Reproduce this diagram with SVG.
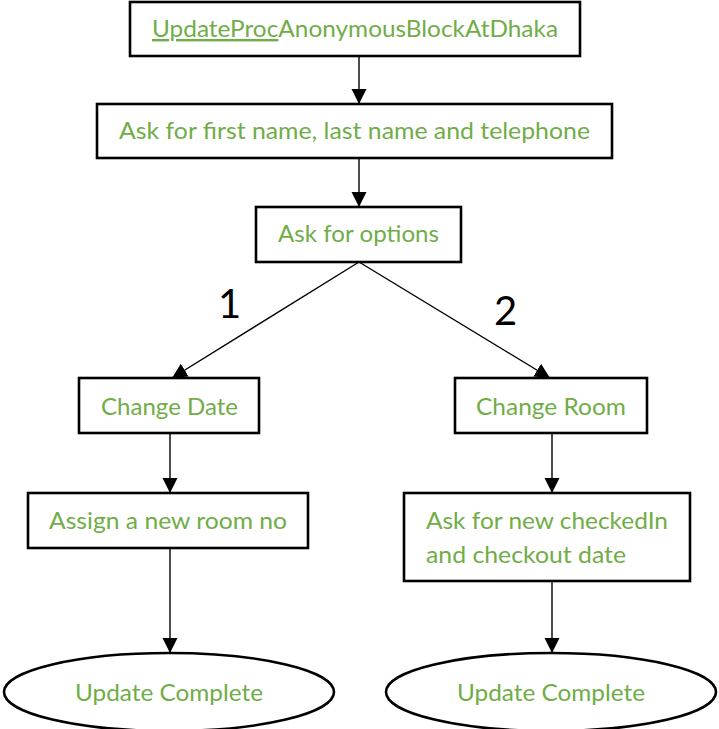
<svg xmlns="http://www.w3.org/2000/svg" width="719" height="729" viewBox="0 0 719 729">
  <defs>
    <marker id="arrow" markerUnits="userSpaceOnUse" markerWidth="16" markerHeight="16" refX="15" refY="7.5" orient="auto">
      <path d="M0,0 L15,7.5 L0,15 z" fill="#000"/>
    </marker>
    <style>
      .box { fill: #fff; stroke: #000; stroke-width: 2.6; }
      .conn { stroke: #000; stroke-width: 1.4; fill: none; marker-end: url(#arrow); }
      .lbl { font-family: Lato, "Open Sans", sans-serif; font-size: 24px; fill: #70AD47; }
      .num { font-family: Lato, "Open Sans", sans-serif; font-size: 40px; fill: #000; }
    </style>
  </defs>
  <rect width="719" height="729" fill="#fff"/>

  <g id="connectors">
    <line class="conn" x1="359" y1="56" x2="359" y2="104"/>
    <line class="conn" x1="359" y1="158" x2="359" y2="207"/>
    <line class="conn" x1="359" y1="262" x2="172" y2="378"/>
    <line class="conn" x1="359" y1="262" x2="550" y2="378"/>
    <line class="conn" x1="170" y1="433" x2="170" y2="493"/>
    <line class="conn" x1="170" y1="548" x2="170" y2="653"/>
    <line class="conn" x1="552" y1="433" x2="552" y2="493"/>
    <line class="conn" x1="552" y1="581" x2="552" y2="653"/>
    <text class="num" x="218" y="318">1</text>
    <text class="num" x="494" y="325">2</text>
  </g>

  <g id="start">
    <rect class="box" x="130" y="2" width="450" height="54"/>
    <text class="lbl" x="152" y="37" textLength="406" lengthAdjust="spacingAndGlyphs"><tspan text-decoration="underline">UpdateProc</tspan>AnonymousBlockAtDhaka</text>
  </g>

  <g id="ask-name">
    <rect class="box" x="97" y="104" width="515" height="54"/>
    <text class="lbl" x="119" y="139" textLength="471" lengthAdjust="spacingAndGlyphs">Ask for first name, last name and telephone</text>
  </g>

  <g id="ask-options">
    <rect class="box" x="256" y="207" width="205" height="55"/>
    <text class="lbl" x="278" y="242" textLength="161" lengthAdjust="spacingAndGlyphs">Ask for options</text>
  </g>

  <g id="change-date">
    <rect class="box" x="79" y="378" width="180" height="55"/>
    <text class="lbl" x="101" y="415" textLength="137" lengthAdjust="spacingAndGlyphs">Change Date</text>
  </g>

  <g id="change-room">
    <rect class="box" x="455" y="378" width="192" height="55"/>
    <text class="lbl" x="476" y="415" textLength="150" lengthAdjust="spacingAndGlyphs">Change Room</text>
  </g>

  <g id="assign-room">
    <rect class="box" x="28" y="493" width="280" height="55"/>
    <text class="lbl" x="49" y="529" textLength="238" lengthAdjust="spacingAndGlyphs">Assign a new room no</text>
  </g>

  <g id="ask-dates">
    <rect class="box" x="404" y="493" width="286" height="88"/>
    <text class="lbl" x="426" y="529" textLength="242" lengthAdjust="spacingAndGlyphs">Ask for new checkedIn</text>
    <text class="lbl" x="426" y="563" textLength="200" lengthAdjust="spacingAndGlyphs">and checkout date</text>
  </g>

  <g id="complete-left">
    <ellipse class="box" cx="169" cy="692" rx="165" ry="39"/>
    <text class="lbl" x="75" y="701" textLength="188" lengthAdjust="spacingAndGlyphs">Update Complete</text>
  </g>

  <g id="complete-right">
    <ellipse class="box" cx="551" cy="692" rx="165" ry="39"/>
    <text class="lbl" x="457" y="701" textLength="188" lengthAdjust="spacingAndGlyphs">Update Complete</text>
  </g>
</svg>
